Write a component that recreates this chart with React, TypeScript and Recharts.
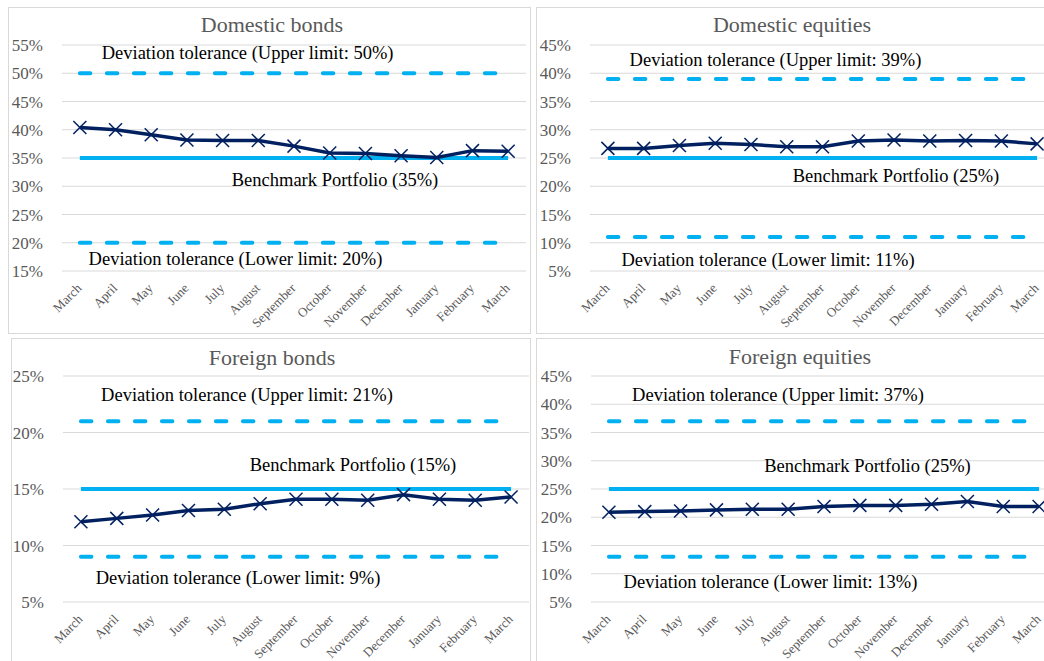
import React from "react";
import { LineChart, Line, XAxis, YAxis, CartesianGrid } from "recharts";

// Month labels along the horizontal axis
const months = [
  "March", "April", "May", "June", "July", "August", "September",
  "October", "November", "December", "January", "February", "March",
];

// Actual allocation (%) per asset class
const domesticBonds = [40.4, 40.0, 39.1, 38.2, 38.1, 38.1, 37.1, 35.9, 35.8, 35.4, 35.1, 36.3, 36.2];
const domesticEquities = [26.7, 26.7, 27.2, 27.6, 27.4, 27.0, 27.0, 28.0, 28.2, 28.0, 28.1, 28.0, 27.5];
const foreignBonds = [12.1, 12.4, 12.7, 13.1, 13.2, 13.7, 14.1, 14.1, 14.0, 14.5, 14.1, 14.0, 14.3];
const foreignEquities = [20.9, 21.0, 21.1, 21.3, 21.4, 21.4, 21.9, 22.1, 22.1, 22.3, 22.8, 21.9, 21.9];

// Policy targets and tolerance bands (%)
const titles = ["Domestic bonds", "Domestic equities", "Foreign bonds", "Foreign equities"];
const benchmarks = [35, 25, 15, 25];
const upperLimits = [50, 39, 21, 37];
const lowerLimits = [20, 11, 9, 13];

// Y axis tick values per panel
const yTicks = [
  [15, 20, 25, 30, 35, 40, 45, 50, 55],
  [5, 10, 15, 20, 25, 30, 35, 40, 45],
  [5, 10, 15, 20, 25],
  [5, 10, 15, 20, 25, 30, 35, 40, 45],
];

const actualSeries = [domesticBonds, domesticEquities, foreignBonds, foreignEquities];

// Panel geometry (page coordinates)
const layouts = [
  { left: 8, top: 7, width: 523, height: 327, yW: 54, plotW: 464,
    title: [272, 25], upper: [247.6, 53], bench: [335, 180], lower: [235.5, 259] },
  { left: 536, top: 7, width: 523, height: 327, yW: 54, plotW: 465,
    title: [792, 25], upper: [775.5, 60], bench: [896, 176], lower: [768, 260] },
  { left: 11, top: 338, width: 520, height: 327, yW: 52, plotW: 466,
    title: [272, 358], upper: [247, 395], bench: [353, 465], lower: [238, 578] },
  { left: 536, top: 338, width: 523, height: 327, yW: 55, plotW: 466,
    title: [800, 357], upper: [778, 395], bench: [867.5, 466], lower: [770.5, 582] },
];

const FONT = "'Liberation Serif', 'Times New Roman', serif";
const GRAY = "#595959";
const NAVY = "#002060";
const CYAN = "#00B0F0";
const PLOT_TOP = 38;
const PLOT_H = 226;
const X_AXIS_H = 40;

const MonthTick = (props: any) => {
  const { x, y, payload } = props;
  return (
    <g transform={`translate(${x + 2.5},${y + 18})`}>
      <text
        x={0}
        y={0}
        textAnchor="end"
        transform="rotate(-45)"
        fill={GRAY}
        fontSize={13}
        fontFamily={FONT}
      >
        {months[payload.value]}
      </text>
    </g>
  );
};

const Cross = (props: any) => {
  const { cx, cy, index } = props;
  if (cx == null || cy == null) return <g key={`c-${index}`} />;
  const s = 6.5;
  return (
    <g key={`c-${index}`}>
      <line x1={cx - s} y1={cy - s} x2={cx + s} y2={cy + s} stroke={NAVY} strokeWidth={1.5} />
      <line x1={cx - s} y1={cy + s} x2={cx + s} y2={cy - s} stroke={NAVY} strokeWidth={1.5} />
    </g>
  );
};

const Note = ({ at, text, size, color }: { at: number[]; text: string; size: number; color: string }) => (
  <div
    style={{
      position: "absolute",
      left: at[0],
      top: at[1],
      transform: "translate(-50%, -50%)",
      whiteSpace: "nowrap",
      fontFamily: FONT,
      fontSize: size,
      lineHeight: 1,
      color,
    }}
  >
    {text}
  </div>
);

const Panel = ({ i }: { i: number }) => {
  const L = layouts[i];
  const data = months.map((m, idx) => ({
    idx,
    actual: actualSeries[i][idx],
    upper: upperLimits[i],
    benchmark: benchmarks[i],
    lower: lowerLimits[i],
  }));
  const ticks = yTicks[i];
  const pad = L.plotW / 26;
  const marginRight = L.width - L.yW - L.plotW;
  const marginBottom = L.height - PLOT_TOP - PLOT_H - X_AXIS_H;
  return (
    <>
      <div
        style={{
          position: "absolute",
          left: L.left,
          top: L.top,
          width: L.width,
          height: L.height,
          boxSizing: "border-box",
          border: "1px solid #d9d9d9",
          background: "#fff",
        }}
      />
      <div style={{ position: "absolute", left: L.left, top: L.top }}>
        <LineChart
          width={L.width}
          height={L.height}
          data={data}
          margin={{ top: PLOT_TOP, right: marginRight, bottom: marginBottom, left: 0 }}
        >
          <CartesianGrid vertical={false} stroke="#d9d9d9" strokeWidth={1} />
          <XAxis
            dataKey="idx"
            type="category"
            scale="point"
            padding={{ left: pad, right: pad }}
            interval={0}
            height={X_AXIS_H}
            axisLine={false}
            tickLine={false}
            tickSize={0}
            tickMargin={0}
            tick={<MonthTick />}
          />
          <YAxis
            type="number"
            width={L.yW}
            domain={[ticks[0], ticks[ticks.length - 1]]}
            ticks={ticks}
            interval={0}
            axisLine={false}
            tickLine={false}
            tickSize={0}
            tickMargin={19}
            tickFormatter={(v: number) => `${v}%`}
            tick={{ fill: GRAY, fontSize: 17, fontFamily: FONT }}
          />
          <Line
            dataKey="upper"
            stroke={CYAN}
            strokeWidth={4}
            strokeDasharray="10.5 16.5"
            strokeLinecap="round"
            dot={false}
            activeDot={false}
            isAnimationActive={false}
          />
          <Line
            dataKey="lower"
            stroke={CYAN}
            strokeWidth={4}
            strokeDasharray="10.5 16.5"
            strokeLinecap="round"
            dot={false}
            activeDot={false}
            isAnimationActive={false}
          />
          <Line
            dataKey="benchmark"
            stroke={CYAN}
            strokeWidth={4}
            dot={false}
            activeDot={false}
            isAnimationActive={false}
          />
          <Line
            dataKey="actual"
            stroke={NAVY}
            strokeWidth={3.5}
            dot={Cross}
            activeDot={false}
            isAnimationActive={false}
          />
        </LineChart>
      </div>
      <Note at={L.title} text={titles[i]} size={22} color={GRAY} />
      <Note at={L.upper} text={`Deviation tolerance (Upper limit: ${upperLimits[i]}%)`} size={18.5} color="#000" />
      <Note at={L.bench} text={`Benchmark Portfolio (${benchmarks[i]}%)`} size={18.5} color="#000" />
      <Note at={L.lower} text={`Deviation tolerance (Lower limit: ${lowerLimits[i]}%)`} size={18.5} color="#000" />
    </>
  );
};

export default function App() {
  return (
    <div
      style={{
        position: "absolute",
        left: 0,
        top: 0,
        width: 1044,
        height: 661,
        overflow: "hidden",
        background: "#fff",
      }}
    >
      {[0, 1, 2, 3].map((i) => (
        <Panel key={i} i={i} />
      ))}
    </div>
  );
}
